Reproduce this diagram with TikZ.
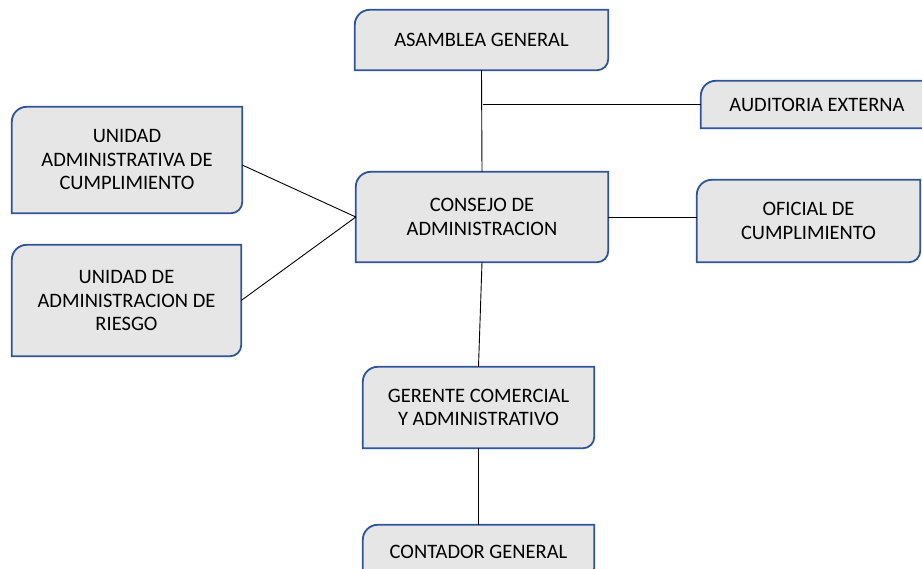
\documentclass[tikz,border=0pt]{standalone}
\usepackage{fontspec}
\setmainfont{Carlito}
\usetikzlibrary{backgrounds}
\definecolor{boxfill}{HTML}{E7E6E6}
\definecolor{boxline}{HTML}{2F5597}

\begin{document}
\begin{tikzpicture}[x=1pt,y=-1pt,
    orgbox/.style={inner sep=0pt, align=center, font=\fontsize{20.5}{23.5}\selectfont},
    frame/.style={draw=boxline, fill=boxfill, line width=1.8pt},
    link/.style={draw=black, line width=0.9pt}]
				\useasboundingbox (0,0) rectangle (922,569);
				
				% top
				\node[orgbox, minimum width=253, minimum height=60] (asamblea) at (481.5,40) {ASAMBLEA GENERAL};
				\node[orgbox, minimum width=232, minimum height=47] (auditoria) at (817,104.5) {AUDITORIA EXTERNA};
				
				% middle row
				\node[orgbox, minimum width=230, minimum height=106] (unidadadm) at (127,160) {UNIDAD\\ADMINISTRATIVA DE\\CUMPLIMIENTO};
				\node[orgbox, minimum width=229, minimum height=111] (riesgo) at (126.5,300.5) {UNIDAD DE\\ADMINISTRACION DE\\RIESGO};
				\node[orgbox, minimum width=252, minimum height=90] (consejo) at (482,217) {CONSEJO DE\\ADMINISTRACION};
				\node[orgbox, minimum width=223, minimum height=82] (oficial) at (808.5,221) {OFICIAL DE\\CUMPLIMIENTO};
				
				% bottom
				\node[orgbox, minimum width=231, minimum height=81] (gerente) at (478.5,407.5) {GERENTE COMERCIAL\\Y ADMINISTRATIVO};
				\node[orgbox, minimum width=231, minimum height=54] (contador) at (478.5,552) {CONTADOR GENERAL};
				
				\begin{scope}[on background layer]
					\foreach \n in {asamblea,auditoria,unidadadm,riesgo,consejo,oficial,gerente,contador}
						\draw[frame] (\n.north) -- (\n.north east) -- (\n.east)
							[rounded corners=11pt] -- (\n.south east) -- (\n.south)
							[sharp corners] -- (\n.south west) -- (\n.west)
							[rounded corners=15pt] -- (\n.north west) -- cycle;
				\end{scope}
				
				\coordinate (tap) at (483,104.5);
				
				\draw[link] (asamblea.south) -- (consejo.north);
				\draw[link] (tap) -- (auditoria.west);
				\draw[link] ([yshift=-5]unidadadm.east) -- (consejo.west);
				\draw[link] (riesgo.east) -- (consejo.west);
				\draw[link] (consejo.east) -- (oficial.west |- consejo.east);
				\draw[link] (consejo.south) -- (gerente.north);
				\draw[link] (gerente.south) -- (contador.north);
			\end{tikzpicture}
\end{document}
